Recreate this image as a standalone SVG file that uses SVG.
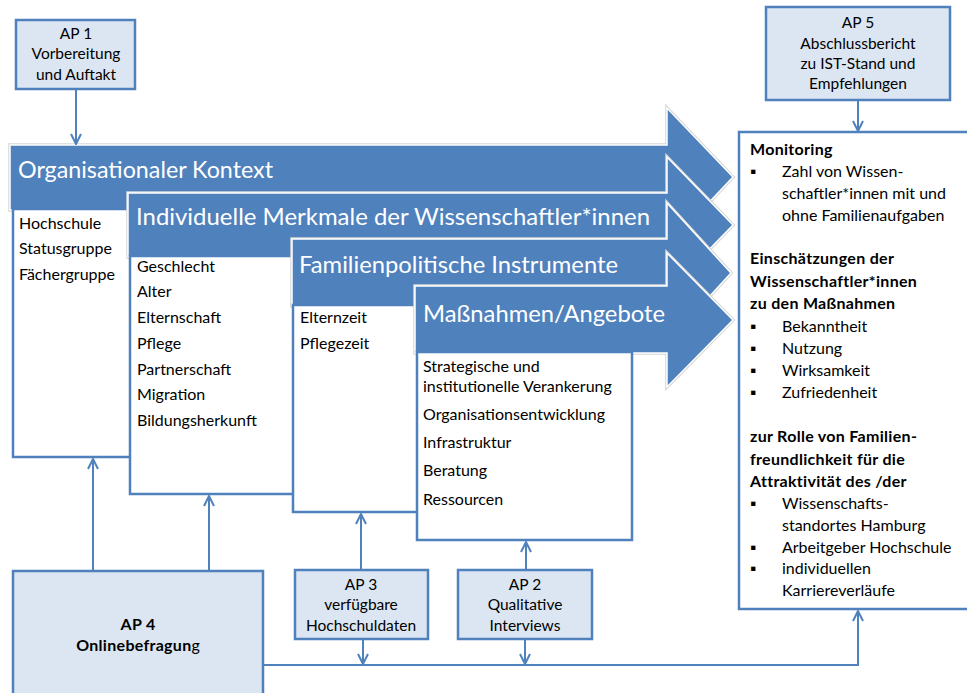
<svg xmlns="http://www.w3.org/2000/svg" width="967" height="693" viewBox="0 0 967 693">
<defs>
<style>
.ap{fill:#DCE6F2;stroke:#4F81BD;stroke-width:2.5}
.cb{fill:#fff;stroke:#4F81BD;stroke-width:2.5}
.arrH{fill:none;stroke:#D6D6D6;stroke-width:3.5;stroke-linejoin:miter}
.arr{fill:#4F81BD;stroke:#fff;stroke-width:1.5;stroke-linejoin:miter}
.ttl{font-family:"Lato","Liberation Sans",sans-serif;font-size:24px;fill:#fff}
.t{font-family:"Lato","Liberation Sans",sans-serif;font-size:16px;fill:#000}
.s{font-size:15.5px}
.c{text-anchor:middle}
.b{font-weight:bold;letter-spacing:0.3px}
.con{fill:none;stroke:#4F81BD;stroke-width:2}
</style>
<marker id="ah" viewBox="0 0 12 12" refX="11" refY="6" markerWidth="12" markerHeight="12" markerUnits="userSpaceOnUse" orient="auto">
<path d="M1,1 L11,6 L1,11" fill="none" stroke="#4F81BD" stroke-width="2"/>
</marker>
</defs>

<g id="arrow1">
<path class="arrH" d="M10,145 H667 V108 L733,177 L667,247 V210 H10 Z"/>
<path class="arr" d="M10,145 H667 V108 L733,177 L667,247 V210 H10 Z"/>
<text class="ttl" x="18" y="178" textLength="255" lengthAdjust="spacingAndGlyphs">Organisationaler Kontext</text>
<rect class="cb" x="13" y="209" width="200" height="248"/>
<text class="t" x="19" y="229">Hochschule</text>
<text class="t" x="19" y="254">Statusgruppe</text>
<text class="t" x="19" y="280">Fächergruppe</text>
</g>

<g id="arrow2">
<path class="arrH" d="M128,193 H667 V157 L733,225 L667,293 V257 H128 Z"/>
<path class="arr" d="M128,193 H667 V157 L733,225 L667,293 V257 H128 Z"/>
<text class="ttl" x="136" y="225" textLength="514" lengthAdjust="spacingAndGlyphs">Individuelle Merkmale der Wissenschaftler*innen</text>
<rect class="cb" x="130" y="256" width="200" height="238"/>
<text class="t" x="137" y="272">Geschlecht</text>
<text class="t" x="137" y="297">Alter</text>
<text class="t" x="137" y="323">Elternschaft</text>
<text class="t" x="137" y="349">Pflege</text>
<text class="t" x="137" y="375">Partnerschaft</text>
<text class="t" x="137" y="400">Migration</text>
<text class="t" x="137" y="426">Bildungsherkunft</text>
</g>

<g id="arrow3">
<path class="arrH" d="M292,239 H667 V203 L731,273 L667,343 V306 H292 Z"/>
<path class="arr" d="M292,239 H667 V203 L731,273 L667,343 V306 H292 Z"/>
<text class="ttl" x="299" y="273" textLength="319" lengthAdjust="spacingAndGlyphs">Familienpolitische Instrumente</text>
<rect class="cb" x="293" y="305" width="200" height="207"/>
<text class="t" x="300" y="323">Elternzeit</text>
<text class="t" x="300" y="349">Pflegezeit</text>
</g>

<g id="arrow4">
<path class="arrH" d="M415,286 H667 V253 L733,320 L667,387 V353 H415 Z"/>
<path class="arr" d="M415,286 H667 V253 L733,320 L667,387 V353 H415 Z"/>
<text class="ttl" x="423" y="322" textLength="242" lengthAdjust="spacingAndGlyphs">Maßnahmen/Angebote</text>
<rect class="cb" x="417" y="352" width="215" height="188"/>
<text class="t" x="423" y="372">Strategische und</text>
<text class="t" x="423" y="392">institutionelle Verankerung</text>
<text class="t" x="423" y="420">Organisationsentwicklung</text>
<text class="t" x="423" y="448">Infrastruktur</text>
<text class="t" x="423" y="476">Beratung</text>
<text class="t" x="423" y="505">Ressourcen</text>
</g>

<g id="ap1">
<rect class="ap" x="16" y="20" width="119" height="69"/>
<text class="t s c" x="76" y="39">AP 1</text>
<text class="t s c" x="76" y="59">Vorbereitung</text>
<text class="t s c" x="76" y="80">und Auftakt</text>
</g>

<g id="ap5">
<rect class="ap" x="766" y="7" width="184" height="93"/>
<text class="t s c" x="858" y="28">AP 5</text>
<text class="t s c" x="858" y="49">Abschlussbericht</text>
<text class="t s c" x="858" y="69">zu IST-Stand und</text>
<text class="t s c" x="858" y="89">Empfehlungen</text>
</g>

<g id="ap4">
<rect class="ap" x="13" y="571" width="250" height="130"/>
<text class="t c b" x="138" y="630">AP 4</text>
<text class="t c" x="138" y="651"><tspan class="b">Onlinebefragun</tspan>g</text>
</g>

<g id="ap3">
<rect class="ap" x="295" y="570" width="133" height="69"/>
<text class="t s c" x="361" y="590">AP 3</text>
<text class="t s c" x="361" y="610">verfügbare</text>
<text class="t s c" x="361" y="631">Hochschuldaten</text>
</g>

<g id="ap2">
<rect class="ap" x="458" y="570" width="134" height="69"/>
<text class="t s c" x="525" y="590">AP 2</text>
<text class="t s c" x="525" y="610">Qualitative</text>
<text class="t s c" x="525" y="631">Interviews</text>
</g>

<g id="results">
<rect class="cb" x="739" y="132" width="240" height="477"/>
<text class="t b" x="750" y="155">Monitoring</text>
<text class="t" x="750" y="177">▪</text>
<text class="t" x="782" y="177">Zahl von Wissen-</text>
<text class="t" x="782" y="199">schaftler*innen mit und</text>
<text class="t" x="782" y="221">ohne Familienaufgaben</text>
<text class="t b" x="750" y="264">Einschätzungen der</text>
<text class="t b" x="750" y="287">Wissenschaftler*innen</text>
<text class="t b" x="750" y="309">zu den Maßnahmen</text>
<text class="t" x="750" y="332">▪</text>
<text class="t" x="782" y="332">Bekanntheit</text>
<text class="t" x="750" y="354">▪</text>
<text class="t" x="782" y="354">Nutzung</text>
<text class="t" x="750" y="376">▪</text>
<text class="t" x="782" y="376">Wirksamkeit</text>
<text class="t" x="750" y="398">▪</text>
<text class="t" x="782" y="398">Zufriedenheit</text>
<text class="t b" x="750" y="442">zur Rolle von Familien-</text>
<text class="t b" x="750" y="465">freundlichkeit für die</text>
<text class="t b" x="750" y="487">Attraktivität des /der</text>
<text class="t" x="750" y="509">▪</text>
<text class="t" x="782" y="509">Wissenschafts-</text>
<text class="t" x="782" y="531">standortes Hamburg</text>
<text class="t" x="750" y="553">▪</text>
<text class="t" x="782" y="553">Arbeitgeber Hochschule</text>
<text class="t" x="750" y="574">▪</text>
<text class="t" x="782" y="574">individuellen</text>
<text class="t" x="782" y="596">Karriereverläufe</text>
</g>

<g id="connectors">
<path class="con" d="M76,89 V144" marker-end="url(#ah)"/>
<path class="con" d="M858,100 V131" marker-end="url(#ah)"/>
<path class="con" d="M93,571 V459" marker-end="url(#ah)"/>
<path class="con" d="M209,571 V496" marker-end="url(#ah)"/>
<path class="con" d="M361,570 V514" marker-end="url(#ah)"/>
<path class="con" d="M363,639 V664" marker-end="url(#ah)"/>
<path class="con" d="M526,570 V542" marker-end="url(#ah)"/>
<path class="con" d="M525,639 V664" marker-end="url(#ah)"/>
<path class="con" d="M263,665 H858 V611" marker-end="url(#ah)"/>
</g>
</svg>
